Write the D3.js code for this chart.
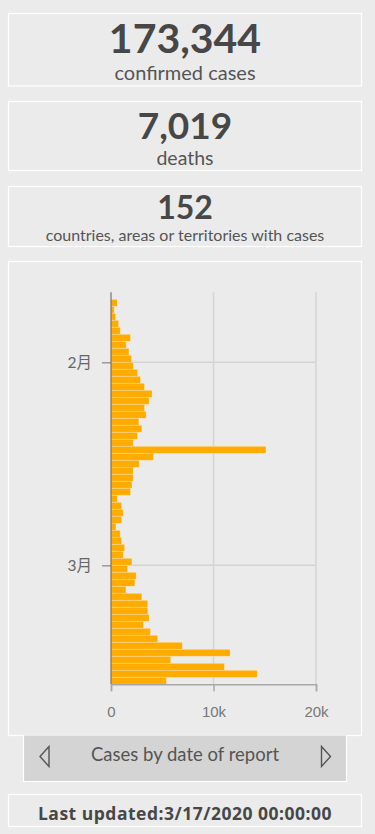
<!DOCTYPE html>
<html>
<head>
<meta charset="utf-8">
<script src="https://cdn.jsdelivr.net/npm/d3@7"></script>
<style>
  html, body { margin: 0; padding: 0; background: #ebebeb; }
  svg { display: block; font-family: Lato, "Noto Sans", "Noto Sans CJK SC", sans-serif; }
</style>
</head>
<body>
<div id="chart"></div>
<script>
// headline figures
const summaryValues = ["173,344", "7,019", "152"];
const summaryLabels = ["confirmed cases", "deaths", "countries, areas or territories with cases"];

// daily cases by date of report
const reportDates = [
  "2020-01-23", "2020-01-24", "2020-01-25", "2020-01-26", "2020-01-27", "2020-01-28", "2020-01-29",
  "2020-01-30", "2020-01-31", "2020-02-01", "2020-02-02", "2020-02-03", "2020-02-04", "2020-02-05",
  "2020-02-06", "2020-02-07", "2020-02-08", "2020-02-09", "2020-02-10", "2020-02-11", "2020-02-12",
  "2020-02-13", "2020-02-14", "2020-02-15", "2020-02-16", "2020-02-17", "2020-02-18", "2020-02-19",
  "2020-02-20", "2020-02-21", "2020-02-22", "2020-02-23", "2020-02-24", "2020-02-25", "2020-02-26",
  "2020-02-27", "2020-02-28", "2020-02-29", "2020-03-01", "2020-03-02", "2020-03-03", "2020-03-04",
  "2020-03-05", "2020-03-06", "2020-03-07", "2020-03-08", "2020-03-09", "2020-03-10", "2020-03-11",
  "2020-03-12", "2020-03-13", "2020-03-14", "2020-03-15", "2020-03-16", "2020-03-17"
];
const dailyCases = [
  610, 320, 455, 745, 905, 1910, 1485, 1750, 2010,
  2190, 2590, 2880, 3270, 4010, 3720, 3270, 3430, 2720, 3010, 2590, 2170,
  15120, 4150, 2750, 2170, 2170, 2040, 1910, 615, 1040, 1200, 1040, 485,
  905, 1040, 1330, 1200, 2040,
  1620, 2460, 2330, 1460, 3010, 3590, 3590, 3720, 3170, 3850, 4560, 6960,
  11620, 5830, 11070, 14270, 5410
];

const xTicks = [0, 10000, 20000];
const yTickDates = ["2020-02-01", "2020-03-01"];
const yTickLabels = ["2月", "3月"];

const footerText = "Last updated:3/17/2020 00:00:00";
const navTitle = "Cases by date of report";

const width = 375, height = 834;
const plot = { left: 111, right: 316, top: 292.3, bottom: 684.3 };

const parse = d3.timeParse("%Y-%m-%d");
const data = reportDates.map((d, i) => ({ date: parse(d), value: dailyCases[i] }));

const svg = d3.select("#chart").append("svg")
  .attr("width", width)
  .attr("height", height);

svg.append("rect").attr("width", width).attr("height", height).attr("fill", "#ebebeb");

// summary cards
const cards = [
  { y: 13.5, h: 72.5, numY: 53, numSize: 41, labY: 80, labSize: 20 },
  { y: 101.5, h: 69, numY: 138.5, numSize: 37, labY: 165, labSize: 19.5 },
  { y: 186.5, h: 60, numY: 218.5, numSize: 32, labY: 241, labSize: 16 }
];

const cardG = svg.append("g").selectAll("g")
  .data(cards)
  .join("g");

cardG.append("rect")
  .attr("x", 8.5).attr("y", (d) => d.y)
  .attr("width", 353).attr("height", (d) => d.h)
  .attr("fill", "none").attr("stroke", "#fff").attr("stroke-width", 1.2);

cardG.append("text")
  .attr("x", 185).attr("y", (d) => d.numY)
  .attr("text-anchor", "middle")
  .attr("font-size", (d) => d.numSize)
  .attr("font-weight", "bold")
  .attr("fill", "#474747")
  .text((d, i) => summaryValues[i]);

cardG.append("text")
  .attr("x", 185).attr("y", (d) => d.labY)
  .attr("text-anchor", "middle")
  .attr("font-size", (d) => d.labSize)
  .attr("fill", "#555")
  .text((d, i) => summaryLabels[i]);

// chart card
svg.append("rect")
  .attr("x", 8.5).attr("y", 261.5).attr("width", 353).attr("height", 474)
  .attr("fill", "none").attr("stroke", "#fff").attr("stroke-width", 1.2);

const y = d3.scaleTime()
  .domain([parse("2020-01-22"), parse("2020-03-18")])
  .range([plot.top, plot.bottom]);

const x = d3.scaleLinear()
  .domain([0, 20000])
  .range([plot.left, plot.right]);

// vertical gridlines
svg.append("g")
  .selectAll("line")
  .data(xTicks.slice(1))
  .join("line")
  .attr("x1", (d) => x(d)).attr("x2", (d) => x(d))
  .attr("y1", plot.top).attr("y2", plot.bottom)
  .attr("stroke", "#d4d4d4").attr("stroke-width", 1.5);

// horizontal gridlines at month ticks
const monthDates = yTickDates.map(parse);
svg.append("g")
  .selectAll("line")
  .data(monthDates)
  .join("line")
  .attr("x1", plot.left).attr("x2", plot.right)
  .attr("y1", (d) => y(d)).attr("y2", (d) => y(d))
  .attr("stroke", "#d4d4d4").attr("stroke-width", 1.5);

// bars
svg.append("g")
  .selectAll("rect")
  .data(data)
  .join("rect")
  .attr("x", x(0))
  .attr("y", (d) => y(d.date))
  .attr("width", (d) => x(d.value) - x(0))
  .attr("height", (d) => y(d3.timeDay.offset(d.date, 1)) - y(d.date))
  .attr("fill", "#ffab00")
  .attr("stroke", "rgba(255,255,255,0.35)")
  .attr("stroke-width", 0.8);

// y axis
const yAxis = svg.append("g")
  .attr("transform", `translate(${plot.left},0)`)
  .call(d3.axisLeft(y)
    .tickValues(monthDates)
    .tickSize(9)
    .tickPadding(10)
    .tickFormat((d, i) => yTickLabels[i]));
yAxis.select(".domain").remove();
yAxis.selectAll(".tick line").attr("stroke", "#9a9a9a").attr("stroke-width", 1.5);
yAxis.selectAll(".tick text")
  .attr("font-size", 15.5)
  .attr("fill", "#666")
  .attr("font-family", "Lato, 'Noto Sans CJK SC', sans-serif");

svg.append("line")
  .attr("x1", plot.left).attr("x2", plot.left)
  .attr("y1", plot.top).attr("y2", plot.bottom)
  .attr("stroke", "rgba(100,90,80,0.5)").attr("stroke-width", 2);

// x axis
const xAxis = svg.append("g")
  .attr("transform", `translate(0,${plot.bottom})`)
  .call(d3.axisBottom(x)
    .tickValues(xTicks)
    .tickSize(7)
    .tickPadding(15)
    .tickFormat(d3.format("~s")));
xAxis.select(".domain")
  .attr("stroke", "#a8a8a8").attr("stroke-width", 1.5);
xAxis.selectAll(".tick line").attr("stroke", "#a8a8a8").attr("stroke-width", 1.5);
xAxis.selectAll(".tick text")
  .attr("font-size", 15)
  .attr("fill", "#777");

// nav bar under the chart
svg.append("rect")
  .attr("x", 23.5).attr("y", 735.5).attr("width", 323).attr("height", 46)
  .attr("fill", "#d4d4d4");
svg.append("path")
  .attr("d", "M23.5,735.5V781.5H346.5V735.5")
  .attr("fill", "none").attr("stroke", "#fff").attr("stroke-width", 1.2);
svg.append("text")
  .attr("x", 185).attr("y", 761)
  .attr("text-anchor", "middle")
  .attr("font-size", 18.5)
  .attr("fill", "#555")
  .text(navTitle);
svg.append("path")
  .attr("d", "M49,746.5L40,756.5L49,766.5Z")
  .attr("fill", "none").attr("stroke", "#555").attr("stroke-width", 1.4);
svg.append("path")
  .attr("d", "M321.5,746.5L330.5,756.5L321.5,766.5Z")
  .attr("fill", "none").attr("stroke", "#555").attr("stroke-width", 1.4);

// footer card
svg.append("rect")
  .attr("x", 8.5).attr("y", 794.5).attr("width", 353).attr("height", 32)
  .attr("fill", "none").attr("stroke", "#fff").attr("stroke-width", 1.2);
svg.append("text")
  .attr("x", 185).attr("y", 820)
  .attr("text-anchor", "middle")
  .attr("font-size", 17.5)
  .attr("letter-spacing", 0.5)
  .attr("font-weight", "bold")
  .attr("font-family", "'Open Sans', Lato, sans-serif")
  .attr("fill", "#474747")
  .text(footerText);
</script>
</body>
</html>
